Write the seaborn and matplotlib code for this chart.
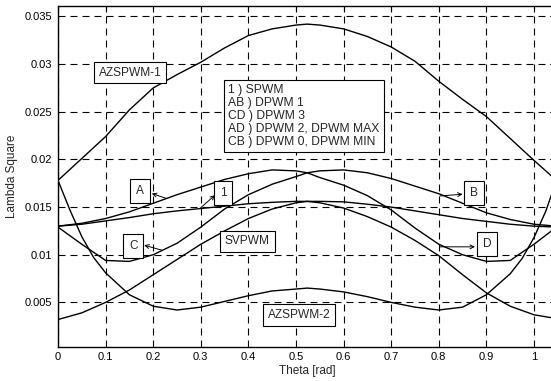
import matplotlib
matplotlib.use("Agg")
import matplotlib.pyplot as plt
import seaborn as sns
import numpy as np
import pandas as pd

# ---------------- data ----------------
theta = [0, 0.05, 0.1, 0.15, 0.2, 0.25, 0.3, 0.35, 0.4, 0.45, 0.5, 0.5236,
         0.55, 0.6, 0.65, 0.7, 0.75, 0.8, 0.85, 0.9, 0.95, 1.0, 1.0472]

spwm = [0.0130, 0.0132, 0.01355, 0.0139, 0.0143, 0.0146, 0.01485, 0.0151, 0.01535,
        0.0155, 0.0156, 0.0156, 0.0156, 0.01555, 0.0153, 0.0150, 0.0146, 0.0142,
        0.0138, 0.0135, 0.0132, 0.0130, 0.0129]

svpwm = [0.0032, 0.0039, 0.0050, 0.0063, 0.0079, 0.0095, 0.0111, 0.0125, 0.0138,
         0.0148, 0.01545, 0.0156, 0.01545, 0.0149, 0.0140, 0.0129, 0.0115, 0.0099,
         0.0079, 0.0060, 0.0046, 0.0037, 0.0033]

dpwm_ad = [0.0130, 0.0133, 0.0138, 0.0145, 0.0154, 0.0163, 0.0171, 0.0179, 0.0185,
           0.0189, 0.0188, 0.0186, 0.0181, 0.0173, 0.0162, 0.0147, 0.0128, 0.0111,
           0.0100, 0.0093, 0.0094, 0.0111, 0.0129]

dpwm_cb = [0.0129, 0.0111, 0.0094, 0.0093, 0.0100, 0.0112, 0.0129, 0.0148, 0.0163,
           0.0174, 0.0182, 0.0186, 0.0188, 0.0189, 0.0186, 0.0180, 0.0172, 0.0164,
           0.0154, 0.0144, 0.0137, 0.0132, 0.0130]

azspwm1 = [0.0178, 0.0201, 0.0224, 0.0252, 0.0275, 0.0289, 0.0302, 0.0317, 0.0330,
           0.0337, 0.0341, 0.0342, 0.0341, 0.0337, 0.0329, 0.0318, 0.0303, 0.0282,
           0.0263, 0.0245, 0.0222, 0.0199, 0.0178]

theta_az2 = [0, 0.025, 0.05, 0.075, 0.1, 0.15, 0.2, 0.25, 0.3, 0.35, 0.4, 0.45, 0.5,
             0.5236, 0.55, 0.6, 0.65, 0.7, 0.75, 0.8, 0.85, 0.9, 0.95, 0.975, 1.0,
             1.025, 1.0472]
azspwm2 = [0.0178, 0.0147, 0.0119, 0.0097, 0.0081, 0.0058, 0.0046, 0.0042, 0.0045,
           0.0051, 0.0057, 0.0062, 0.0064, 0.0065, 0.0064, 0.0061, 0.0056, 0.0050,
           0.0045, 0.0042, 0.0045, 0.0058, 0.0080, 0.0096, 0.0118, 0.0146, 0.0178]

xticks = [0, 0.1, 0.2, 0.3, 0.4, 0.5, 0.6, 0.7, 0.8, 0.9, 1.0]
xticklabels = ["0", "0.1", "0.2", "0.3", "0.4", "0.5", "0.6", "0.7", "0.8", "0.9", "1"]
yticks = [0.005, 0.01, 0.015, 0.02, 0.025, 0.03, 0.035]
yticklabels = ["0.005", "0.01", "0.015", "0.02", "0.025", "0.03", "0.035"]

legend_lines = ["1 ) SPWM", "AB ) DPWM 1", "CD ) DPWM 3",
                "AD ) DPWM 2, DPWM MAX", "CB ) DPWM 0, DPWM MIN"]

# ---------------- style ----------------
sns.set_style("white")
plt.rcParams["font.family"] = ["Liberation Sans", "DejaVu Sans"]
plt.rcParams["font.size"] = 8

W, H = 551, 381
fig = plt.figure(figsize=(W / 100, H / 100), dpi=100)
ax_left, ax_right_px_span = 58, 1.0472 * 476
ax_top, ax_bot = 6, 346.7
ax = fig.add_axes([ax_left / W, 1 - ax_bot / H, ax_right_px_span / W, (ax_bot - ax_top) / H])

curves = [
    (theta, spwm), (theta, svpwm), (theta, dpwm_ad), (theta, dpwm_cb),
    (theta, azspwm1), (theta_az2, azspwm2),
]
for xs, ys in curves:
    df = pd.DataFrame({"theta": xs, "val": ys})
    sns.lineplot(data=df, x="theta", y="val", ax=ax, color="black", lw=1.0, sort=False)

ax.set_xlim(0, 1.0472)
ax.set_ylim(0.00035, 0.0361)
ax.set_xticks(xticks)
ax.set_xticklabels(xticklabels)
ax.set_yticks(yticks)
ax.set_yticklabels(yticklabels)
ax.tick_params(direction="in", length=4, width=0.8, top=True, right=True,
               labelsize=8, pad=4, colors="black")
ax.grid(True, color="black", lw=0.8, ls=(0, (6.3, 4.5)))
for s in ax.spines.values():
    s.set_color("black")
    s.set_linewidth(1.0)

ax.set_xlabel("Theta [rad]", fontsize=8.5)
ax.set_ylabel("Lambda Square", fontsize=8.5)
ax.xaxis.set_label_coords(0.5, -0.055)
ax.yaxis.set_label_coords(-0.080, 0.5)

box = dict(boxstyle="square,pad=0.4", fc="white", ec="black", lw=0.8)
boxl = dict(boxstyle="square,pad=0.5", fc="white", ec="black", lw=0.8)

ax.text(0.151, 0.0291, "AZSPWM-1", ha="center", va="center", bbox=box, fontsize=8.6)
ax.text(0.506, 0.00367, "AZSPWM-2", ha="center", va="center", bbox=box, fontsize=8.6)
ax.text(0.398, 0.0114, "SVPWM", ha="center", va="center", bbox=box, fontsize=8.6)
ax.text(0.173, 0.0167, "A", ha="center", va="center", bbox=boxl, fontsize=8.6)
ax.text(0.158, 0.0109, "C", ha="center", va="center", bbox=boxl, fontsize=8.6)
ax.text(0.8736, 0.01648, "B", ha="center", va="center", bbox=boxl, fontsize=8.6)
ax.text(0.9016, 0.01113, "D", ha="center", va="center", bbox=boxl, fontsize=8.6)
ax.text(0.347, 0.01643, "1", ha="center", va="center", bbox=boxl, fontsize=8.6)

ax.text(0.357, 0.02458, "\n".join(legend_lines), ha="left", va="center", fontsize=8.7,
        linespacing=1.1, bbox=dict(boxstyle="square,pad=0.35", fc="white", ec="black", lw=0.8))

arr = dict(arrowstyle="->", color="black", lw=0.7, mutation_scale=7, shrinkA=0, shrinkB=0)
ax.annotate("", xy=(0.197, 0.01643), xytext=(0.228, 0.0159), arrowprops=arr)
ax.annotate("", xy=(0.33, 0.01625), xytext=(0.298, 0.01485), arrowprops=arr)
ax.annotate("", xy=(0.181, 0.0110), xytext=(0.218, 0.01048), arrowprops=arr)
ax.annotate("", xy=(0.850, 0.01635), xytext=(0.8025, 0.01617), arrowprops=arr)
ax.annotate("", xy=(0.876, 0.01083), xytext=(0.8025, 0.01083), arrowprops=arr)

fig.savefig("out.png", dpi=100)
